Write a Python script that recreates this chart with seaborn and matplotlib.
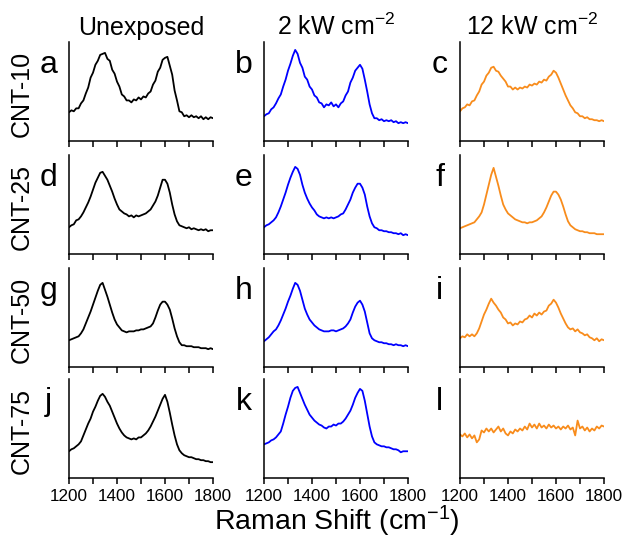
import numpy as np
import seaborn as sns
import matplotlib.pyplot as plt

# Raman spectra, intensity as fraction of panel height, every 10 cm-1 from 1200 to 1800
shift_start, shift_stop, shift_step = 1200, 1800, 10

samples = ['CNT-10', 'CNT-25', 'CNT-50', 'CNT-75']
exposures = ['Unexposed', '2 kW cm$^{-2}$', '12 kW cm$^{-2}$']
panel_letters = ['a', 'b', 'c', 'd', 'e', 'f', 'g', 'h', 'i', 'j', 'k', 'l']
line_colors = ['black', '#0000ff', '#f88c1c']

cnt10_unexposed = [.29, .31, .30, .33, .33, .38, .41, .48, .54, .64, .69, .77, .81, .87, .88, .89,
                   .83, .81, .72, .68, .60, .55, .47, .45, .41, .41, .39, .42, .41, .44, .42, .45,
                   .44, .48, .50, .57, .61, .70, .74, .82, .84, .85, .76, .67, .51, .41, .30, .29,
                   .25, .26, .24, .26, .24, .25, .23, .25, .22, .24, .22, .24, .23]
cnt10_2kw = [.25, .27, .28, .32, .34, .38, .43, .47, .55, .62, .71, .78, .86, .92, .88, .79,
             .74, .65, .62, .55, .52, .46, .44, .39, .38, .34, .37, .36, .39, .35, .37, .34,
             .38, .40, .46, .50, .59, .64, .71, .74, .77, .73, .62, .50, .37, .28, .23, .23,
             .21, .22, .20, .21, .20, .21, .19, .20, .18, .19, .18, .19, .18]
cnt10_12kw = [.30, .33, .34, .37, .36, .40, .41, .46, .50, .57, .60, .66, .69, .74, .75, .71,
              .70, .66, .63, .60, .55, .55, .52, .54, .52, .54, .53, .55, .54, .57, .56, .58,
              .57, .60, .59, .62, .61, .65, .67, .71, .69, .64, .58, .52, .46, .41, .36, .33,
              .29, .28, .25, .25, .23, .24, .22, .22, .21, .21, .20, .21, .20]

cnt25_unexposed = [.27, .29, .30, .34, .35, .38, .42, .47, .52, .58, .65, .72, .77, .82, .83, .79,
                   .75, .69, .63, .56, .50, .45, .43, .41, .40, .38, .39, .37, .39, .38, .39, .40,
                   .41, .43, .45, .49, .53, .59, .67, .75, .75, .71, .62, .50, .40, .33, .29, .28,
                   .27, .26, .27, .25, .26, .25, .24, .25, .24, .25, .23, .24, .24]
cnt25_2kw = [.27, .29, .30, .32, .34, .37, .42, .48, .55, .62, .70, .77, .83, .88, .86, .80,
             .70, .62, .56, .51, .47, .44, .40, .38, .37, .36, .37, .36, .37, .36, .37, .38,
             .40, .41, .45, .50, .55, .62, .67, .71, .71, .67, .60, .48, .38, .31, .27, .26,
             .24, .24, .23, .23, .22, .22, .21, .21, .20, .21, .19, .20, .19]
cnt25_12kw = [.26, .27, .28, .29, .30, .31, .32, .35, .38, .42, .50, .60, .70, .80, .87, .78,
              .69, .59, .50, .45, .41, .39, .37, .35, .34, .33, .32, .32, .31, .32, .32, .33,
              .34, .36, .38, .42, .47, .53, .59, .63, .63, .60, .55, .48, .40, .33, .29, .27,
              .25, .24, .23, .23, .22, .22, .21, .21, .21, .20, .20, .20, .20]

cnt50_unexposed = [.27, .28, .29, .30, .31, .34, .38, .44, .50, .56, .63, .70, .77, .83, .85, .78,
                   .71, .63, .55, .48, .43, .40, .37, .36, .35, .36, .36, .36, .37, .37, .38, .38,
                   .39, .40, .41, .44, .50, .57, .63, .66, .66, .63, .58, .49, .39, .31, .25, .22,
                   .22, .21, .21, .21, .20, .20, .20, .19, .19, .19, .18, .19, .18]
cnt50_2kw = [.26, .28, .30, .33, .36, .38, .42, .47, .53, .59, .66, .72, .79, .85, .83, .77,
             .68, .59, .53, .48, .45, .42, .40, .38, .37, .36, .36, .36, .37, .37, .36, .37,
             .38, .39, .41, .44, .48, .55, .61, .65, .67, .63, .56, .45, .34, .29, .27, .26,
             .25, .25, .24, .24, .23, .23, .22, .23, .22, .22, .21, .22, .21]
cnt50_12kw = [.29, .31, .30, .33, .31, .33, .31, .34, .39, .46, .53, .58, .64, .69, .65, .62,
              .58, .55, .50, .48, .44, .45, .42, .44, .43, .46, .45, .48, .49, .52, .50, .54,
              .52, .55, .53, .56, .57, .62, .64, .68, .65, .60, .54, .49, .44, .40, .38, .39,
              .36, .38, .35, .34, .32, .33, .30, .29, .27, .29, .26, .28, .27]

cnt75_unexposed = [.27, .29, .30, .32, .34, .37, .43, .49, .55, .60, .67, .72, .78, .83, .85, .82,
                   .77, .73, .67, .61, .55, .50, .46, .43, .41, .40, .39, .40, .39, .41, .41, .43,
                   .45, .48, .52, .57, .62, .68, .74, .80, .84, .77, .66, .54, .43, .34, .28, .25,
                   .23, .22, .21, .21, .20, .19, .19, .18, .18, .17, .17, .16, .16]
cnt75_2kw = [.34, .35, .36, .38, .39, .41, .44, .47, .55, .64, .72, .81, .88, .91, .92, .86,
             .80, .74, .69, .64, .61, .58, .56, .54, .53, .51, .50, .52, .52, .54, .53, .55,
             .55, .57, .60, .64, .68, .74, .81, .86, .90, .88, .78, .65, .52, .42, .36, .34,
             .33, .32, .32, .31, .31, .30, .29, .29, .28, .26, .27, .27, .27]
cnt75_12kw = [.44, .42, .45, .41, .44, .40, .43, .36, .39, .48, .46, .50, .47, .50, .46, .49,
              .52, .47, .50, .45, .43, .47, .45, .49, .47, .50, .48, .52, .49, .55, .51, .54,
              .50, .55, .51, .53, .50, .54, .51, .53, .50, .52, .49, .52, .50, .53, .49, .51,
              .43, .58, .50, .52, .48, .51, .47, .50, .48, .52, .50, .53, .52]

spectra = [
    [cnt10_unexposed, cnt10_2kw, cnt10_12kw],
    [cnt25_unexposed, cnt25_2kw, cnt25_12kw],
    [cnt50_unexposed, cnt50_2kw, cnt50_12kw],
    [cnt75_unexposed, cnt75_2kw, cnt75_12kw],
]

sns.set_style('ticks')
plt.rcParams['font.family'] = ['Liberation Sans', 'DejaVu Sans']
plt.rcParams['mathtext.fontset'] = 'custom'
plt.rcParams['mathtext.rm'] = 'Liberation Sans'
plt.rcParams['mathtext.default'] = 'regular'
plt.rcParams['text.color'] = 'black'
plt.rcParams['xtick.color'] = 'black'
plt.rcParams['xtick.labelcolor'] = 'black'

W, H = 626, 540
fig = plt.figure(figsize=(W / 100, H / 100), dpi=100)

col_left = [69, 264, 460]
col_width = 144
row_top = [42, 155, 268, 379]
row_height = 99

shift = np.arange(shift_start, shift_stop + 1, shift_step)

for r in range(4):
    for c in range(3):
        ax = fig.add_axes([col_left[c] / W, 1 - (row_top[r] + row_height) / H,
                           col_width / W, row_height / H])
        sns.lineplot(x=shift, y=spectra[r][c], color=line_colors[c], lw=1.3, ax=ax)
        ax.set_xlim(shift_start, shift_stop)
        ax.set_ylim(0, 1)
        ax.set_yticks([])
        ax.set_xticks([1200, 1400, 1600, 1800])
        ax.set_xticks([1300, 1500, 1700], minor=True)
        ax.tick_params(axis='x', which='both', direction='out', length=4, width=1.1,
                       labelsize=12.3, pad=4, color='black', labelcolor='black')
        if r < 3:
            ax.set_xticklabels([])
        for side in ['left', 'bottom']:
            ax.spines[side].set_linewidth(1.1)
            ax.spines[side].set_color('black')
        sns.despine(ax=ax)
        ax.set_xlabel('')
        ax.set_ylabel('')
        ax.text(-0.14, 0.69, panel_letters[r * 3 + c], transform=ax.transAxes,
                ha='center', va='baseline', fontsize=23, color='black')
        if r == 0:
            ax.text(0.5, 1 + 7 / row_height, exposures[c], transform=ax.transAxes,
                    ha='center', va='baseline', fontsize=18, color='black')
        if c == 0:
            fig.text(22 / W, 1 - (row_top[r] + row_height / 2 + 2) / H, samples[r],
                     rotation=90, ha='center', va='center', fontsize=18, color='black')

fig.text(337 / W, 1 - 530 / H, 'Raman Shift (cm$^{-1}$)', ha='center', va='baseline',
         fontsize=20.5, color='black')

fig.savefig('out.png', dpi=100)
